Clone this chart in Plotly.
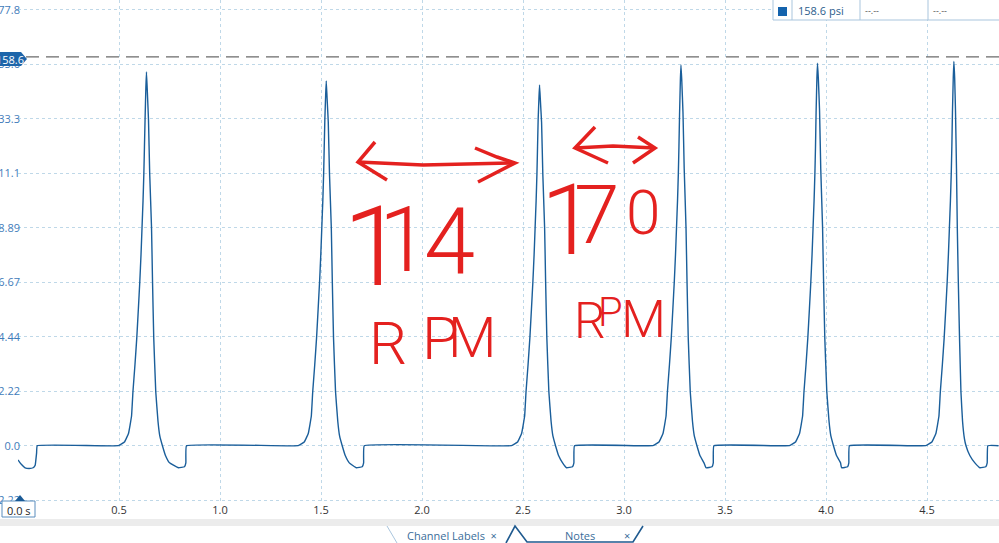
import plotly.graph_objects as go

# ---------------- data ----------------
start_t   = [0.000, 0.015, 0.035, 0.055, 0.075, 0.085, 0.092, 0.095]
start_psi = [-5.8, -7.5, -9.0, -9.3, -9.0, -8.0, -3.0, 0.0]

pulse1_t = [0.497, 0.527, 0.547, 0.562, 0.569, 0.579, 0.588, 0.596, 0.603, 0.609, 0.614,
            0.619, 0.623, 0.626, 0.629, 0.633, 0.636, 0.640, 0.646, 0.652, 0.661, 0.666,
            0.672, 0.682, 0.693, 0.702, 0.715, 0.730, 0.750, 0.794, 0.824, 0.831, 0.834]
pulse1_psi = [0, 1.5, 5, 12, 22, 33, 44, 56, 67, 78, 89, 100, 111, 122, 133, 146, 152.5,
              145, 133, 111, 89, 67, 44, 22, 10, 4, 0, -4, -7, -9, -8.6, -7, 0]

pulse2_t = [1.387, 1.417, 1.437, 1.452, 1.459, 1.469, 1.478, 1.486, 1.493, 1.499, 1.504,
            1.509, 1.513, 1.516, 1.519, 1.523, 1.526, 1.530, 1.536, 1.542, 1.551, 1.556,
            1.562, 1.572, 1.583, 1.592, 1.605, 1.620, 1.640, 1.675, 1.704, 1.711, 1.714]
pulse2_psi = [0, 1.5, 5, 12, 22, 33, 44, 56, 67, 78, 89, 100, 111, 122, 133, 143, 148.8,
              142, 132, 111, 89, 67, 44, 22, 10, 4, 0, -4, -7, -9, -8.6, -7, 0]

pulse3_t = [2.443, 2.473, 2.493, 2.508, 2.515, 2.525, 2.534, 2.542, 2.549, 2.555, 2.560,
            2.565, 2.569, 2.572, 2.575, 2.579, 2.582, 2.586, 2.592, 2.598, 2.607, 2.612,
            2.618, 2.628, 2.639, 2.648, 2.661, 2.676, 2.696, 2.716, 2.745, 2.752, 2.755]
pulse3_psi = [0, 1.5, 5, 12, 22, 33, 44, 56, 67, 78, 89, 100, 111, 122, 133, 142, 147.2,
              141, 132, 111, 89, 67, 44, 22, 10, 4, 0, -4, -7, -9, -8.6, -7, 0]

pulse4_t = [3.143, 3.173, 3.193, 3.208, 3.215, 3.225, 3.234, 3.242, 3.249, 3.255, 3.260,
            3.265, 3.269, 3.272, 3.275, 3.279, 3.282, 3.286, 3.292, 3.298, 3.307, 3.312,
            3.318, 3.328, 3.339, 3.348, 3.361, 3.376, 3.396, 3.406, 3.436, 3.442, 3.445]
pulse4_psi = [0, 1.5, 5, 12, 22, 33, 44, 56, 67, 78, 89, 100, 111, 122, 135, 149, 155.3,
              149, 136, 113, 89, 67, 44, 22, 10, 4, 0, -4, -7, -9, -8.6, -7, 0]

pulse5_t = [3.819, 3.849, 3.869, 3.884, 3.891, 3.901, 3.910, 3.918, 3.925, 3.931, 3.936,
            3.941, 3.945, 3.948, 3.951, 3.955, 3.958, 3.962, 3.968, 3.974, 3.983, 3.988,
            3.994, 4.004, 4.015, 4.024, 4.037, 4.052, 4.072, 4.077, 4.107, 4.113, 4.116]
pulse5_psi = [0, 1.5, 5, 12, 22, 33, 44, 56, 67, 78, 89, 100, 111, 122, 136, 150, 156.1,
              150, 137, 113, 89, 67, 44, 22, 10, 4, 0, -4, -7, -9, -8.6, -7, 0]

pulse6_t = [4.494, 4.524, 4.544, 4.559, 4.566, 4.576, 4.585, 4.593, 4.600, 4.606, 4.611,
            4.616, 4.620, 4.623, 4.626, 4.630, 4.633, 4.637, 4.641, 4.646, 4.650, 4.655,
            4.661, 4.668, 4.676, 4.685, 4.693, 4.712, 4.737, 4.762, 4.791, 4.798, 4.801]
pulse6_psi = [0, 1.5, 5, 12, 22, 33, 44, 56, 67, 78, 89, 100, 111, 122, 136, 150, 156.8,
              150, 137, 113, 89, 67, 44, 22, 10, 3, 0, -4, -7, -9, -8.6, -7, 0]

end_t = [4.854]
end_psi = [0.0]

y_tick_vals = [-22.225, 0, 22.225, 44.45, 66.675, 88.9, 111.125, 133.35, 155.575, 177.8]
y_tick_text = ["-22.22", "0.0", "22.22", "44.44", "66.67", "88.89", "111.1", "133.3", "155.6", "177.8"]
x_tick_vals = [0, 0.5, 1.0, 1.5, 2.0, 2.5, 3.0, 3.5, 4.0, 4.5]
x_tick_text = ["", "0.5", "1.0", "1.5", "2.0", "2.5", "3.0", "3.5", "4.0", "4.5"]

ruler_psi = 158.6
ruler_label = "158.6"
legend_value = "158.6 psi"

time_s = start_t + pulse1_t + pulse2_t + pulse3_t + pulse4_t + pulse5_t + pulse6_t + end_t
pressure_psi = (start_psi + pulse1_psi + pulse2_psi + pulse3_psi + pulse4_psi
                + pulse5_psi + pulse6_psi + end_psi)

# ---------------- layout helpers (pixel -> paper) ----------------
L, PW, PH = 18, 981, 502


def px(X):
    return (X - L) / PW


def py(Y):
    return (PH - Y) / PH


def path(pts, close=False):
    s = "M " + " L ".join(f"{px(x):.5f},{py(y):.5f}" for x, y in pts)
    return s + (" Z" if close else "")


RED = "#e4211f"
shapes = []
annotations = []

# ruler dashed line
shapes.append(dict(type="line", xref="paper", yref="y", x0=px(26), x1=1.0,
                   y0=ruler_psi, y1=ruler_psi, line=dict(color="#6b6b6b", width=1.3, dash="13px,7px")))
# ruler marker
shapes.append(dict(type="path", xref="paper", yref="paper",
                   path=path([(-2, 52), (21, 52), (27, 59), (21, 66), (-2, 66)], True),
                   fillcolor="#1d65aa", line=dict(width=0)))
annotations.append(dict(xref="paper", yref="paper", x=px(10), y=py(59), text=ruler_label,
                        showarrow=False, font=dict(family="Open Sans", size=11, color="white"),
                        xanchor="center", yanchor="middle"))

# legend table top-right
shapes.append(dict(type="rect", xref="paper", yref="paper", x0=px(773), x1=px(1003),
                   y0=py(20), y1=py(-3), fillcolor="white", line=dict(color="#a9c5dd", width=1)))
for xd in (792, 860, 928):
    shapes.append(dict(type="line", xref="paper", yref="paper", x0=px(xd), x1=px(xd),
                       y0=py(20), y1=py(-3), line=dict(color="#a9c5dd", width=1)))
shapes.append(dict(type="rect", xref="paper", yref="paper", x0=px(778), x1=px(787),
                   y0=py(16), y1=py(7), fillcolor="#1463ad", line=dict(width=0)))
annotations.append(dict(xref="paper", yref="paper", x=px(796), y=py(11), text=legend_value,
                        showarrow=False, xanchor="left", yanchor="middle",
                        font=dict(family="Open Sans", size=11, color="#2b5d8c")))
for xt in (863, 931):
    annotations.append(dict(xref="paper", yref="paper", x=px(xt), y=py(11), text="--.--",
                            showarrow=False, xanchor="left", yanchor="middle",
                            font=dict(family="Open Sans", size=9, color="#555")))

# 0.0 s box + trigger triangle
shapes.append(dict(type="rect", xref="paper", yref="paper", x0=px(2), x1=px(35),
                   y0=py(517), y1=py(501), fillcolor="white", line=dict(color="#5a8dbd", width=1)))
shapes.append(dict(type="path", xref="paper", yref="paper",
                   path=path([(15, 501), (20, 495), (25, 501)], True),
                   fillcolor="#1a5a96", line=dict(width=0)))
annotations.append(dict(xref="paper", yref="paper", x=px(19), y=py(510), text="0.0 s",
                        showarrow=False, xanchor="center", yanchor="middle",
                        font=dict(family="Open Sans", size=11, color="#222")))

# grey strip and tabs
shapes.append(dict(type="rect", xref="paper", yref="paper", x0=px(-5), x1=px(1005),
                   y0=py(526), y1=py(519), fillcolor="#ececec", line=dict(width=0)))
shapes.append(dict(type="path", xref="paper", yref="paper",
                   path=path([(387, 526), (397, 543)]), line=dict(color="#a9c5dd", width=1)))
shapes.append(dict(type="path", xref="paper", yref="paper",
                   path=path([(506, 543), (515, 526), (527, 542), (633, 542), (643, 526)]),
                   line=dict(color="#1f5a8f", width=1.6)))
annotations.append(dict(xref="paper", yref="paper", x=px(452), y=py(535), text="Channel Labels  ×",
                        showarrow=False, xanchor="center", yanchor="middle",
                        font=dict(family="Open Sans", size=11, color="#3a6d9a")))
annotations.append(dict(xref="paper", yref="paper", x=px(580), y=py(535), text="Notes",
                        showarrow=False, xanchor="center", yanchor="middle",
                        font=dict(family="Open Sans", size=11, color="#3a6d9a")))
annotations.append(dict(xref="paper", yref="paper", x=px(627), y=py(535), text="×",
                        showarrow=False, xanchor="center", yanchor="middle",
                        font=dict(family="Open Sans", size=11, color="#3a6d9a")))

# red hand-drawn arrows
arrow_paths = [
    [(358, 162), (423, 165), (515, 163)],
    [(375, 142), (358, 162), (387, 180)],
    [(475, 148), (497, 157), (515, 163), (478, 182)],
    [(575, 148), (613, 146), (655, 148)],
    [(595, 127), (575, 148), (608, 163)],
    [(638, 137), (655, 148), (633, 163)],
]
for pts in arrow_paths:
    shapes.append(dict(type="path", xref="paper", yref="paper", path=path(pts),
                       line=dict(color=RED, width=3.5)))

# red hand-written text (as text)
glyphs = [
    ("1", 374, 246, 112), ("1", 404, 240, 90), ("4", 449, 242, 92),
    ("R", 388, 343, 60), ("P", 440, 338, 60), ("M", 472, 338, 56),
    ("1", 568, 220, 98), ("7", 596, 215, 82), ("0", 643, 213, 62),
    ("R", 590, 321, 50), ("P", 610, 312, 40), ("M", 643, 319, 52),
]
for ch, X, Y, size in glyphs:
    annotations.append(dict(xref="paper", yref="paper", x=px(X), y=py(Y), text=ch,
                            showarrow=False, xanchor="center", yanchor="middle",
                            font=dict(family="Roboto", size=size, color=RED, weight=300)))

fig = go.Figure()
fig.add_trace(go.Scatter(x=time_s, y=pressure_psi, mode="lines",
                         line=dict(color="#1a5e9a", width=1.4, shape="spline", smoothing=0.25),
                         hoverinfo="skip", showlegend=False))

fig.update_layout(
    template="none",
    width=999, height=543,
    margin=dict(l=L, r=0, t=0, b=543 - PH),
    paper_bgcolor="white", plot_bgcolor="white",
    showlegend=False,
    shapes=shapes, annotations=annotations,
    xaxis=dict(range=[0, PW / 202.0], tickvals=x_tick_vals, ticktext=x_tick_text,
               showgrid=True, gridcolor="#bfd8e8", griddash="dot", gridwidth=1,
               zeroline=False, showline=False, ticks="", automargin=False,
               tickfont=dict(family="Open Sans", size=11, color="#333")),
    yaxis=dict(range=[-(PH - 445.7) / 2.451, 445.7 / 2.451], tickvals=y_tick_vals,
               ticktext=y_tick_text, showgrid=True, gridcolor="#bfd8e8", griddash="dot",
               gridwidth=1, zeroline=False, showline=False, ticks="", automargin=False,
               ticklabelstandoff=-3,
               tickfont=dict(family="Open Sans", size=11, color="#3f7cba")),
)

fig.write_html("out.html", config={"displayModeBar": False},
               post_script="document.body.style.margin='0';document.body.style.overflow='hidden';")
